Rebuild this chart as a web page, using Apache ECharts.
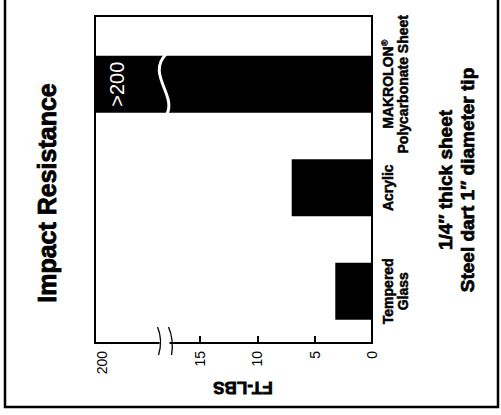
<!DOCTYPE html>
<html><head><meta charset="utf-8">
<script src="https://cdn.jsdelivr.net/npm/echarts@6/dist/echarts.min.js"></script>
<style>html,body{margin:0;padding:0;background:#fff}#c{width:501px;height:415px}</style>
</head><body><div id="c"></div>
<script>
// ---- data ----
const categories = ['Tempered\nGlass', 'Acrylic', 'MAKROLON®\nPolycarbonate Sheet'];
const impactValues = [3.2, 7, 200];
const barLabels = ['', '', '>200'];
const tickValues = [5, 10, 15];
const labelValues = [0, 5, 10, 15];
const axisTopLabel = '200';
const axisTopPos = 24.15;   // where the broken axis reaches "200"
const breakValue = 18;
const titleText = 'Impact Resistance';
const subtitleLines = ['1/4″ thick sheet', 'Steel dart 1″ diameter tip'];
const axisName = 'FT-LBS';

// ---- layout ----
const FONT = '"Liberation Sans", Arial, sans-serif';
const G = { left: 95, right: 129, bottom: 72 };
const frameTop = 16, barGridTop = 32.5;
const axisY = 415 - G.bottom;

const catStyle = { fontSize: 14, fontWeight: 'bold', color: '#000', fontFamily: FONT, lineHeight: 15, textBorderColor: '#000', textBorderWidth: 0.5 };

const chart = echarts.init(document.getElementById('c'), null, { renderer: 'svg' });
chart.setOption({
  animation: false,
  backgroundColor: '#fff',
  grid: [
    { left: G.left, right: G.right, top: barGridTop, bottom: G.bottom },
    { left: G.left, right: G.right, top: frameTop, bottom: G.bottom, show: true, borderColor: '#000', borderWidth: 2, backgroundColor: 'transparent' }
  ],
  xAxis: [
    {
      type: 'value', gridIndex: 0, inverse: true, min: 0, max: axisTopPos,
      splitLine: { show: false }, axisLine: { show: false },
      axisTick: { show: true, inside: true, length: 7, customValues: tickValues, lineStyle: { color: '#000', width: 2 } },
      axisLabel: {
        customValues: labelValues.concat([axisTopPos]), rotate: 90, margin: 8,
        fontSize: 14, color: '#000', fontFamily: FONT,
        formatter: v => Math.abs(v - axisTopPos) < 1e-6 ? '{m|' + axisTopLabel + '}' : String(v),
        rich: { m: { fontSize: 14, color: '#000', fontFamily: FONT, padding: [14, 0, 0, 0] } }
      }
    },
    { type: 'value', gridIndex: 1, show: false }
  ],
  yAxis: [
    {
      type: 'category', gridIndex: 0, position: 'right', data: categories,
      axisLine: { show: false }, axisTick: { show: false },
      axisLabel: Object.assign({
        interval: 0, rotate: 90, margin: 8,
        formatter: v => v.split('\n').map(line => line.replace(/^([^®]*)®$/, '{b|$1}{s|®}').replace(/^([^{®][^®]*)$/, '{b|$1}')).join('\n'),
        rich: {
          b: Object.assign({}, catStyle),
          s: Object.assign({}, catStyle, { fontSize: 9, verticalAlign: 'top', lineHeight: 15, textBorderWidth: 0.3 })
        }
      }, catStyle)
    },
    { type: 'category', gridIndex: 1, show: false, data: categories }
  ],
  series: [{
    type: 'bar', xAxisIndex: 0, yAxisIndex: 0, barWidth: 57, clip: true,
    itemStyle: { color: '#000' },
    data: impactValues.map((v, i) => ({
      value: v,
      label: {
        show: barLabels[i] !== '', formatter: barLabels[i], position: 'insideLeft', distance: 22,
        rotate: 90, align: 'center', verticalAlign: 'middle',
        color: '#fff', fontSize: 20, fontFamily: FONT
      }
    }))
  }]
});

// break decorations, positioned through the axis scales
const bx = chart.convertToPixel({ xAxisIndex: 0 }, breakValue);
const cy = chart.convertToPixel({ yAxisIndex: 0 }, 2);
const barTop = cy - 28.5, barBot = cy + 28.5;

chart.setOption({
  graphic: [
    { type: 'rect', z: 100, shape: { x: 5, y: -5, width: 493, height: 412 }, style: { fill: null, stroke: '#000', lineWidth: 2.5 } },
    { type: 'bezierCurve', z: 100, shape: { x1: bx + 1, y1: barTop - 2, cpx1: bx - 20, cpy1: barTop + 18, cpx2: bx + 12, cpy2: barTop + 40, x2: bx + 1, y2: barBot + 2 }, style: { stroke: '#fff', lineWidth: 3, fill: null } },
    { type: 'rect', z: 100, shape: { x: bx - 6, y: axisY - 3, width: 10, height: 6 }, style: { fill: '#fff' } },
    { type: 'bezierCurve', z: 101, shape: { x1: bx - 8, y1: axisY - 16, cpx1: bx - 2.5, cpy1: axisY - 3, x2: bx - 7, y2: axisY + 12 }, style: { stroke: '#000', lineWidth: 1.3, fill: null } },
    { type: 'bezierCurve', z: 101, shape: { x1: bx + 3, y1: axisY - 16, cpx1: bx + 8.5, cpy1: axisY - 3, x2: bx + 6, y2: axisY + 12 }, style: { stroke: '#000', lineWidth: 1.3, fill: null } },
    { type: 'text', z: 100, x: 47, y: 193, rotation: Math.PI / 2,
      style: { text: titleText, fill: '#000', fontSize: 25, fontWeight: 'bold', fontFamily: FONT, align: 'center', verticalAlign: 'middle', stroke: '#000', lineWidth: 0.8 } },
    { type: 'text', z: 100, x: 456, y: 180, rotation: Math.PI / 2,
      style: { text: subtitleLines.join('\n'), fill: '#000', fontSize: 19, lineHeight: 22, fontWeight: 'bold', fontFamily: FONT, align: 'center', verticalAlign: 'middle', stroke: '#000', lineWidth: 0.7 } },
    { type: 'text', z: 100, x: 243, y: 387, rotation: Math.PI,
      style: { text: axisName, fill: '#000', fontSize: 17, fontWeight: 'bold', fontFamily: FONT, align: 'center', verticalAlign: 'middle', stroke: '#000', lineWidth: 0.8 } }
  ]
});
</script></body></html>
